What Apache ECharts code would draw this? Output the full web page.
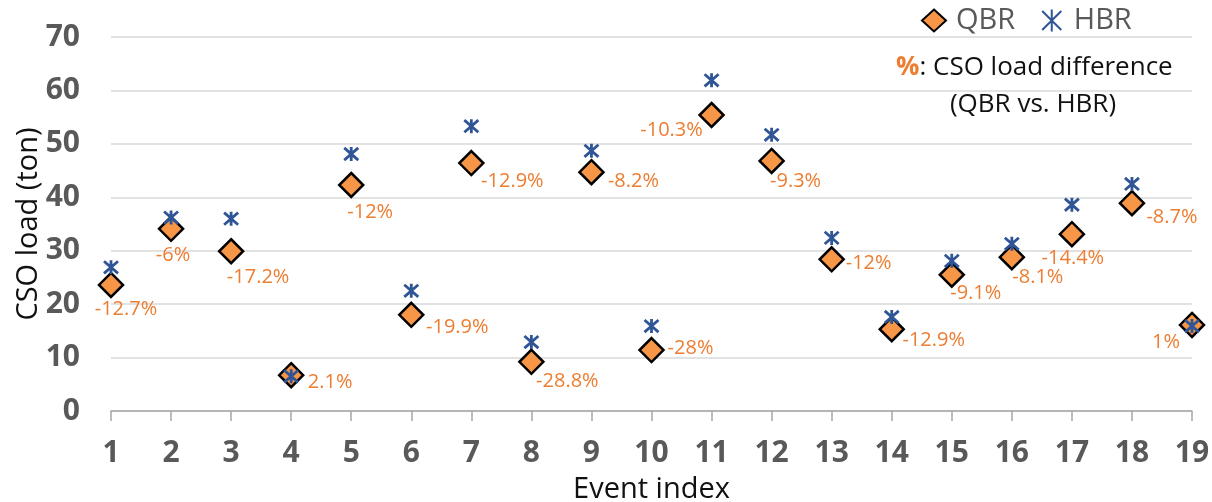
<!DOCTYPE html>
<html>
<head>
<meta charset="utf-8">
<script src="https://cdn.jsdelivr.net/npm/echarts@6/dist/echarts.min.js"></script>
<style>
html,body{margin:0;padding:0;background:#fff;}
#chart{width:1212px;height:502px;}
</style>
</head>
<body>
<div id="chart"></div>
<script>
var categories = ['1','2','3','4','5','6','7','8','9','10','11','12','13','14','15','16','17','18','19'];
var qbrValues = [23.6,34.1,29.9,6.7,42.3,18.0,46.4,9.2,44.7,11.4,55.4,46.8,28.4,15.3,25.5,28.8,33.1,38.9,16.1];
var hbrValues = [26.9,36.2,36.0,6.5,48.1,22.5,53.3,12.9,48.7,15.9,61.9,51.7,32.4,17.6,28.1,31.3,38.6,42.5,15.9];
var diffLabels = ['-12.7%','-6%','-17.2%','2.1%','-12%','-19.9%','-12.9%','-28.8%','-8.2%','-28%','-10.3%','-9.3%','-12%','-12.9%','-9.1%','-8.1%','-14.4%','-8.7%','1%'];
var yTicks = [0,10,20,30,40,50,60,70];

// label placement (pixel offsets from the marker centre) - layout only
var labelOffsets = [[15,24],[2,26],[27,26],[39,7],[19,27],[46,12],[41,18],[36,19],[42,9],[39,-2],[-40,15],[24,20],[37,4],[42,11],[24,19],[26,20],[1,24],[40,14],[-26,17]];

var FONT = 'Open Sans';
var starPath = 'path://M-1,-1L1,1M-1,1L1,-1M0,-1.15L0,1.15';

var chart = echarts.init(document.getElementById('chart'));
chart.setOption({
  animation: false,
  backgroundColor: '#fff',
  grid: {left: 111, right: 20, top: 37, bottom: 91, containLabel: false, outerBoundsMode: 'none'},
  legend: {
    left: 916, top: 1,
    itemWidth: 24, itemHeight: 22, itemGap: 26,
    textStyle: {fontFamily: FONT, fontSize: 29, color: '#595959', padding: [0,0,0,5]},
    data: [
      {name: 'QBR', icon: 'diamond'},
      {name: 'HBR', icon: starPath}
    ]
  },
  xAxis: {
    type: 'category',
    data: categories,
    boundaryGap: false,
    axisLine: {lineStyle: {color: '#A6A6A6', width: 1.5}},
    axisTick: {show: true, length: 10, lineStyle: {color: '#A6A6A6', width: 1.5}},
    axisLabel: {fontFamily: FONT, fontWeight: 'bold', fontSize: 30, color: '#595959', margin: 27},
    splitLine: {show: false},
    name: 'Event index',
    nameLocation: 'middle',
    nameGap: 64,
    nameMoveOverlap: false,
    nameTextStyle: {fontFamily: FONT, fontSize: 29, color: '#111'}
  },
  yAxis: {
    type: 'value',
    min: 0, max: 70, interval: 10,
    axisLine: {show: false},
    axisTick: {show: false},
    axisLabel: {fontFamily: FONT, fontWeight: 'bold', fontSize: 30, color: '#595959', margin: 31,
      formatter: function (v) { return yTicks.indexOf(v) >= 0 ? String(v) : ''; }},
    splitLine: {lineStyle: {color: '#D9D9D9', width: 1.5}},
    name: 'CSO load (ton)',
    nameLocation: 'middle',
    nameGap: 68,
    nameMoveOverlap: false,
    nameTextStyle: {fontFamily: FONT, fontSize: 29, color: '#111'}
  },
  series: [
    {
      name: 'QBR',
      type: 'scatter',
      data: qbrValues,
      symbol: 'diamond',
      symbolSize: [24, 24],
      itemStyle: {color: '#F79646', borderColor: '#000', borderWidth: 2.5, opacity: 1},
      label: {
        show: true,
        position: 'inside',
        fontFamily: FONT,
        fontSize: 20,
        color: '#ED7D31',
        formatter: function (p) { return diffLabels[p.dataIndex]; }
      },
      labelLayout: function (p) {
        var o = labelOffsets[p.dataIndex];
        return {dx: o[0], dy: o[1]};
      },
      z: 2
    },
    {
      name: 'HBR',
      type: 'scatter',
      data: hbrValues,
      symbol: starPath,
      symbolSize: [14, 14],
      itemStyle: {color: '#2F5597', borderColor: '#2F5597', borderWidth: 2.8, opacity: 1},
      z: 3
    }
  ],
  graphic: [
    {
      type: 'text',
      left: 896, top: 55,
      style: {
        text: '{o|%}: CSO load difference',
        fontFamily: FONT, fontSize: 26, fill: '#111',
        rich: {o: {fontFamily: FONT, fontSize: 26, fill: '#ED7D31', color: '#ED7D31', fontWeight: 'bold'}}
      }
    },
    {
      type: 'text',
      x: 1033, y: 105,
      style: {
        text: '(QBR vs. HBR)',
        fontFamily: FONT, fontSize: 26, fill: '#111',
        align: 'center', verticalAlign: 'middle'
      }
    }
  ]
});
</script>
</body>
</html>
